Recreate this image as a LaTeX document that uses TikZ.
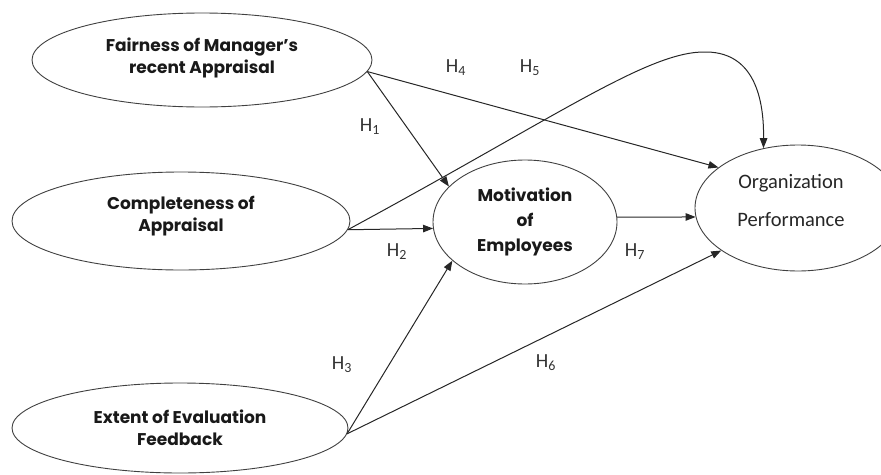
\documentclass[tikz,border=0pt]{standalone}
\usepackage{fontspec}
\setmainfont{Carlito}
\newfontfamily\boldfam{Poppins}
\usetikzlibrary{shapes.geometric,arrows.meta}
\begin{document}
\begin{tikzpicture}[x=1pt,y=-1pt,
  ell/.style={ellipse,draw=black!75,line width=0.9pt,inner sep=0pt},
  bt/.style={font=\boldfam\bfseries\fontsize{17}{22}\selectfont,align=center,text=black!90},
  lab/.style={font=\fontsize{20}{20}\selectfont,text=black!80},
  ot/.style={font=\fontsize{20.5}{38}\selectfont,align=center,text=black!85},
  arr/.style={draw=black!85,line width=1pt,-{Triangle[length=10pt,width=7.5pt]}}
]
\useasboundingbox (0,0) rectangle (881,474);
\clip (0,0) rectangle (881,474);
% ellipses
\node[ell,minimum width=340,minimum height=94] (fair) at (202,60) {};
\node[ell,minimum width=338,minimum height=98] (comp) at (181,221) {};
\node[ell,minimum width=336,minimum height=90] (ext) at (180,428) {};
\node[ell,minimum width=184,minimum height=124] (mot) at (525,222) {};
\node[ell,minimum width=206,minimum height=126] (org) at (798,208) {};
% texts
\node[bt] (fairt) at (202,58) {Fairness of Manager’s\\recent Appraisal};
\node[bt] (compt) at (181,216) {Completeness of\\Appraisal};
\node[bt] (extt) at (180,428) {Extent of Evaluation\\Feedback};
\node[bt,font=\boldfam\bfseries\fontsize{17}{25}\selectfont] (mott) at (525,222) {Motivation\\of\\Employees};
\node[ot] (orgt) at (791,200) {Organization\\Performance};
% connectors
\coordinate (peak) at (707,52);
\draw[arr] (fair.-4) -- (mot.155);
\draw[arr] (fair.-4) -- (org.153);
\draw[arr] (comp.-3) -- (mot.184);
\draw[arr] (comp.-3) .. controls (560,115) and (650,50) .. (peak) .. controls (755,53) and (764,100) .. (org.120);
\draw[arr] (mot.3) -- (org.185);
\draw[arr] (ext.-2) -- (mot.208);
\draw[arr] (ext.-2) -- (org.209);
% labels
\node[lab] (h1) at (370,127) {H\textsubscript{1}};
\node[lab] (h2) at (397,252) {H\textsubscript{2}};
\node[lab] (h3) at (342,365) {H\textsubscript{3}};
\node[lab] (h4) at (456,68) {H\textsubscript{4}};
\node[lab] (h5) at (530,68) {H\textsubscript{5}};
\node[lab] (h6) at (546,363) {H\textsubscript{6}};
\node[lab] (h7) at (635,252) {H\textsubscript{7}};
\end{tikzpicture}
\end{document}
